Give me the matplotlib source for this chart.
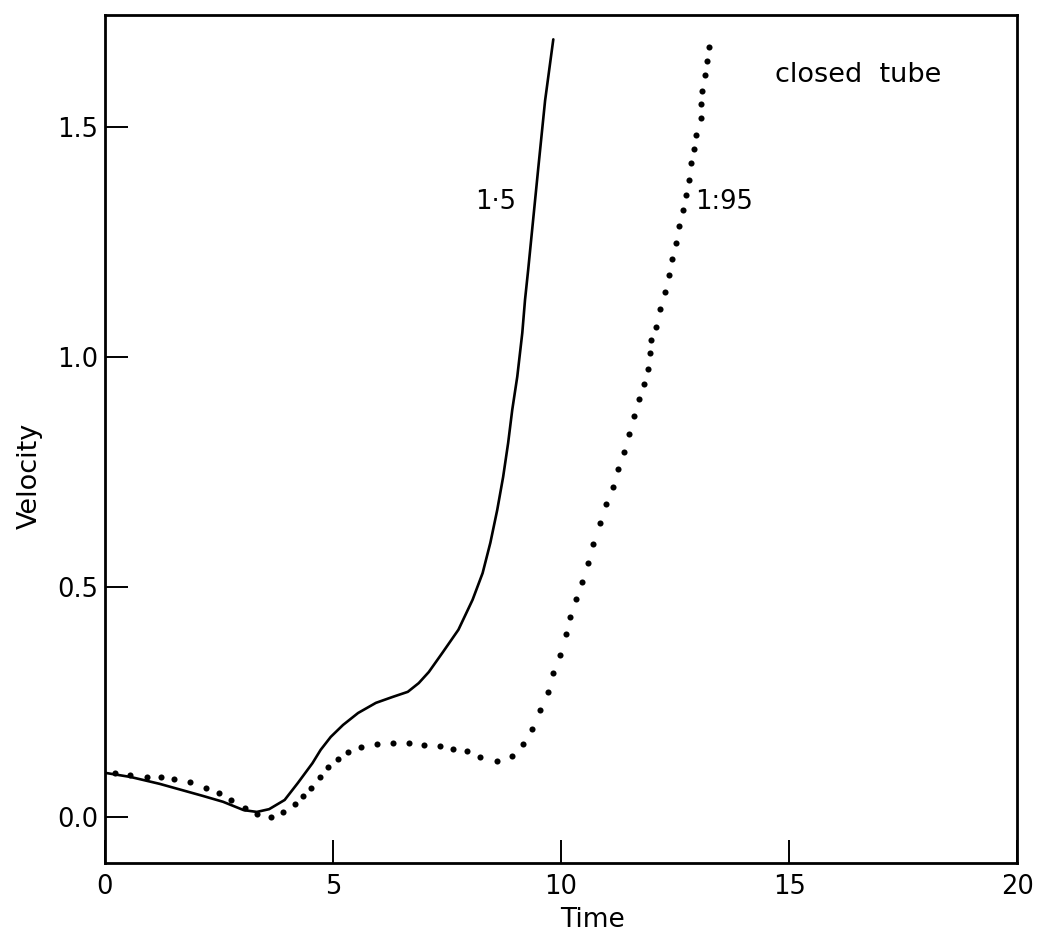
import numpy as np
import matplotlib
matplotlib.use("Agg")
import matplotlib.pyplot as plt

# run with ratio 1.5 (solid line)
time_15 = [0.0, 0.56, 1.2, 2.14, 2.59, 3.04, 3.33, 3.60, 3.94, 4.23, 4.55, 4.73,
           4.95, 5.22, 5.55, 5.94, 6.31, 6.64, 6.88, 7.10, 7.40, 7.75, 8.06, 8.28,
           8.45, 8.60, 8.73, 8.84, 8.93, 9.04, 9.15, 9.21, 9.28, 9.50, 9.65, 9.83]
vel_15 = [0.096, 0.087, 0.072, 0.046, 0.033, 0.015, 0.011, 0.017, 0.037, 0.074, 0.117, 0.146,
          0.174, 0.200, 0.226, 0.248, 0.261, 0.272, 0.291, 0.315, 0.357, 0.407, 0.472, 0.530,
          0.596, 0.667, 0.739, 0.813, 0.885, 0.957, 1.052, 1.124, 1.19, 1.41, 1.557, 1.69]

# run with ratio 1.95 (dotted line, one value per dot)
time_195 = [0.23, 0.56, 0.92, 1.22, 1.51, 1.87, 2.21, 2.50, 2.77, 3.06, 3.33, 3.63,
            3.90, 4.17, 4.35, 4.52, 4.71, 4.90, 5.11, 5.33, 5.61, 5.96, 6.31, 6.66,
            6.99, 7.34, 7.62, 7.93, 8.23, 8.60, 8.93, 9.17, 9.37, 9.53, 9.71, 9.83,
            9.98, 10.11, 10.19, 10.32, 10.45, 10.58, 10.71, 10.85, 10.99, 11.14, 11.25,
            11.38, 11.49, 11.59, 11.70, 11.81, 11.90, 11.94, 11.98, 12.09, 12.18, 12.28,
            12.37, 12.44, 12.53, 12.59, 12.68, 12.74, 12.80, 12.84, 12.91, 12.95, 13.06,
            13.06, 13.10, 13.16, 13.21, 13.25]
vel_195 = [0.096, 0.091, 0.087, 0.087, 0.083, 0.076, 0.063, 0.052, 0.037, 0.020, 0.007, 0.000,
           0.011, 0.028, 0.046, 0.063, 0.086, 0.108, 0.127, 0.141, 0.152, 0.159, 0.161, 0.161,
           0.157, 0.154, 0.148, 0.143, 0.130, 0.122, 0.133, 0.159, 0.191, 0.233, 0.272, 0.314,
           0.353, 0.398, 0.435, 0.474, 0.511, 0.552, 0.593, 0.638, 0.680, 0.717, 0.757,
           0.793, 0.833, 0.872, 0.909, 0.941, 0.974, 1.009, 1.037, 1.065, 1.104, 1.141,
           1.178, 1.213, 1.248, 1.285, 1.320, 1.352, 1.385, 1.422, 1.452, 1.483, 1.520,
           1.550, 1.578, 1.613, 1.643, 1.674]

x_ticks = [0, 5, 10, 15, 20]
y_ticks = [0.0, 0.5, 1.0, 1.5]
y_tick_labels = ["0.0", "0.5", "1.0", "1.5"]

plt.rcParams['font.family'] = ['DejaVu Sans']

fig = plt.figure(figsize=(10.39, 9.47), dpi=100)
ax = fig.add_axes([0.101, 0.0887, 0.878, 0.8955])

ax.plot(time_15, vel_15, color='black', lw=1.9,
        solid_capstyle='round', solid_joinstyle='round')
ax.plot(time_195, vel_195, linestyle='none', marker='o', markersize=4.4,
        color='black', markeredgewidth=0)

ax.set_xlim(0, 20)
ax.set_ylim(-0.1, 1.743)
ax.set_xticks(x_ticks)
ax.set_yticks(y_ticks)
ax.set_yticklabels(y_tick_labels)
ax.tick_params(direction='in', length=16.5, width=1.4, labelsize=18.5)
ax.tick_params(axis='x', pad=8)
ax.tick_params(axis='y', pad=5)
for side in ax.spines.values():
    side.set_linewidth(2.0)

ax.set_xlabel('Time', fontsize=19)
ax.xaxis.set_label_coords(0.534, -0.052)
ax.set_ylabel('Velocity', fontsize=19.5)
ax.yaxis.set_label_coords(-0.068, 0.456)

# curve labels
ax.text(8.56, 1.337, '1·5', fontsize=18.5, ha='center', va='center')
ax.text(13.58, 1.337, '1:95', fontsize=18.5, ha='center', va='center')
ax.text(0.826, 0.929, 'closed  tube', transform=ax.transAxes,
        fontsize=19.5, ha='center', va='center')

fig.savefig('out.png', dpi=100)
